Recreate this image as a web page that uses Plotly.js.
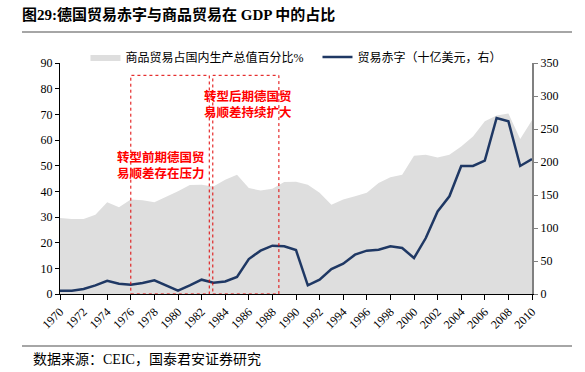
<!DOCTYPE html>
<html>
<head>
<meta charset="utf-8">
<script src="https://cdn.plot.ly/plotly-3.0.1.min.js"></script>
<style>html,body{margin:0;padding:0;background:#fff;}#chart{width:585px;height:372px;}</style>
</head>
<body>
<div id="chart"></div>
<script>
const years = [];
for (let y = 1970; y <= 2010; y++) years.push(y);

const tradeShare = [29.6, 29.2, 29.2, 30.9, 35.7, 33.8, 36.8, 36.5, 35.7, 37.7,
  40.0, 42.5, 42.6, 41.9, 44.5, 46.5, 41.3, 40.3, 41.0, 43.6,
  43.7, 42.6, 39.4, 34.8, 36.8, 38.1, 39.4, 43.2, 45.5, 46.5,
  53.9, 54.3, 53.2, 54.3, 57.5, 61.4, 67.3, 69.5, 70.3, 60.4, 67.7];

const tradeBalance = [5, 5, 7.6, 13, 20, 15.7, 14, 16.7, 20.7, 12.6,
  5, 13, 21.7, 17, 19, 25.8, 53, 65.7, 73.2, 72.2,
  66.5, 13.1, 21.7, 37.9, 46, 59.6, 65.7, 67.2, 72.2, 69.7,
  54.5, 84.8, 125, 148, 194, 194, 202, 266.7, 261.6, 194, 204.5];

const seriesNames = ['商品贸易占国内生产总值百分比%', '贸易赤字（十亿美元，右）'];
const titleText = '图29:德国贸易赤字与商品贸易在 GDP 中的占比';
const sourceText = '数据来源：CEIC，国泰君安证券研究';
const noteEarly = '转型前期德国贸<br>易顺差存在压力';
const noteLate = '转型后期德国贸<br>易顺差持续扩大';

const serif = '"Liberation Serif", "Noto Sans CJK SC", serif';
const cjk = '"Liberation Serif", "Noto Sans CJK SC", sans-serif';

const traces = [
  {
    x: years, y: tradeShare, name: seriesNames[0] + '\u00A0\u00A0\u00A0', type: 'scatter', mode: 'lines',
    fill: 'tozeroy', fillcolor: '#DEDEDE', line: {width: 0, color: '#DEDEDE'},
    yaxis: 'y'
  },
  {
    x: years, y: tradeBalance, name: seriesNames[1], type: 'scatter', mode: 'lines',
    line: {width: 2.5, color: '#1F3864'}, yaxis: 'y2'
  }
];

const red = '#E00000';
const layout = {
  width: 585, height: 372,
  margin: {l: 60, r: 53, t: 63, b: 78},
  paper_bgcolor: '#fff', plot_bgcolor: '#fff',
  font: {family: serif, size: 12, color: '#000'},
  title: {
    text: '<b>' + titleText + '</b>',
    font: {family: cjk, size: 15, color: '#000'},
    xref: 'container', yref: 'container', x: 22/585, xanchor: 'left',
    y: 1 - 15/372, yanchor: 'middle'
  },
  showlegend: true,
  legend: {
    orientation: 'h', x: 0.054, xanchor: 'left', y: 1.026, yanchor: 'middle',
    font: {family: cjk, size: 12, color: '#000'},
    bgcolor: 'rgba(0,0,0,0)', itemwidth: 30, traceorder: 'normal'
  },
  xaxis: {
    range: [1970, 2010], tickmode: 'linear', tick0: 1970, dtick: 2,
    tickangle: -45, ticks: 'outside', ticklen: 5, tickcolor: '#000',
    showline: true, linecolor: '#000', linewidth: 1, showgrid: false, zeroline: false,
    tickfont: {family: serif, size: 12, color: '#000'}
  },
  yaxis: {
    range: [0, 90], dtick: 10, ticks: 'outside', ticklen: 4, tickcolor: '#000',
    showline: true, linecolor: '#000', linewidth: 1, showgrid: false, zeroline: false,
    tickfont: {family: serif, size: 12, color: '#000'}
  },
  yaxis2: {
    range: [0, 350], dtick: 50, overlaying: 'y', side: 'right',
    ticks: 'outside', ticklen: 4, tickcolor: '#808080',
    showline: true, linecolor: '#808080', linewidth: 2, showgrid: false, zeroline: false,
    tickfont: {family: serif, size: 12, color: '#000'}
  },
  shapes: [
    {type: 'rect', xref: 'x', yref: 'y', x0: 1976, x1: 1982.65, y0: 0, y1: 85.2,
     line: {color: red, width: 1, dash: 'dot'}, fillcolor: 'rgba(0,0,0,0)'},
    {type: 'rect', xref: 'x', yref: 'y', x0: 1982.95, x1: 1988.55, y0: 0, y1: 85.2,
     line: {color: red, width: 1, dash: 'dot'}, fillcolor: 'rgba(0,0,0,0)'},
    {type: 'line', xref: 'paper', yref: 'paper', x0: (22-60)/472, x1: (572-60)/472,
     y0: 1 + (63-32)/231, y1: 1 + (63-32)/231, line: {color: '#888', width: 1.5}},
    {type: 'line', xref: 'paper', yref: 'paper', x0: (22-60)/472, x1: (572-60)/472,
     y0: -(346-294)/231, y1: -(346-294)/231, line: {color: '#888', width: 1.5}}
  ],
  annotations: [
    {text: '<b>' + noteEarly + '</b>', xref: 'x', yref: 'y', x: 1978.6, y: 50.0,
     showarrow: false, font: {family: cjk, size: 12.5, color: '#FF0000'}, align: 'center'},
    {text: '<b>' + noteLate + '</b>', xref: 'x', yref: 'y', x: 1985.9, y: 74.0,
     showarrow: false, font: {family: cjk, size: 12.5, color: '#FF0000'}, align: 'center'},
    {text: sourceText, xref: 'paper', yref: 'paper', x: (31-60)/472, xanchor: 'left',
     y: -(360-294)/231, yanchor: 'middle', showarrow: false,
     font: {family: cjk, size: 14, color: '#000'}}
  ]
};

Plotly.newPlot('chart', traces, layout, {displayModeBar: false, staticPlot: true});
</script>
</body>
</html>
